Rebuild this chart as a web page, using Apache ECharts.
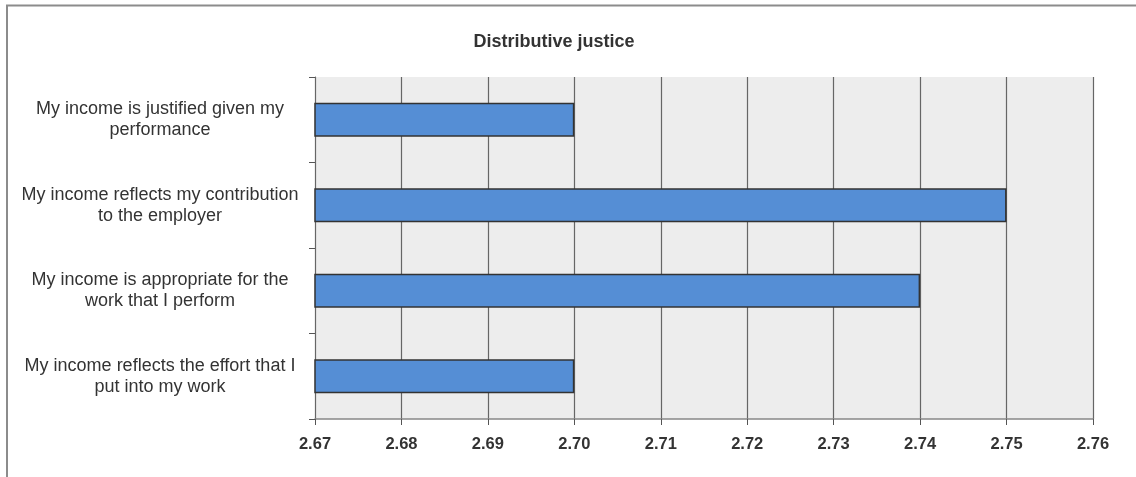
<!DOCTYPE html>
<html>
<head>
<meta charset="utf-8">
<script src="https://cdn.jsdelivr.net/npm/echarts@6/dist/echarts.min.js"></script>
<style>
  html, body { margin: 0; padding: 0; background: #ffffff; }
  #chart { width: 1136px; height: 477px; }
</style>
</head>
<body>
<div id="chart"></div>
<script>
// Survey items (top to bottom) and their mean scores
const categories = [
  'My income is justified given my\nperformance',
  'My income reflects my contribution\nto the employer',
  'My income is appropriate for the\nwork that I perform',
  'My income reflects the effort that I\nput into my work'
];
const meanScores = [2.70, 2.75, 2.74, 2.70];
const xTicks = { min: 2.67, max: 2.76, step: 0.01 };

const chart = echarts.init(document.getElementById('chart'), null, { renderer: 'canvas' });
const font = '"Liberation Sans", Arial, sans-serif';

chart.setOption({
  animation: false,
  backgroundColor: '#ffffff',
  title: {
    text: 'Distributive justice',
    left: 549,
    top: 28,
    textAlign: 'center',
    textStyle: { fontFamily: font, fontSize: 18, fontWeight: 'bold', color: '#333333' }
  },
  graphic: [
    {
      type: 'polyline',
      shape: { points: [[7, 477], [7, 5.5], [1136, 5.5]] },
      style: { stroke: '#8c8c8c', lineWidth: 2, fill: null },
      silent: true
    }
  ],
  grid: {
    left: 315, right: 43, top: 77, bottom: 58,
    show: true, backgroundColor: '#ededed', borderWidth: 0
  },
  xAxis: {
    type: 'value',
    min: xTicks.min,
    max: xTicks.max,
    interval: xTicks.step,
    axisLine: { show: true, lineStyle: { color: '#888888', width: 1.5 } },
    axisTick: { show: true, length: 6, lineStyle: { color: '#555555' } },
    splitLine: { show: true, lineStyle: { color: '#666666', width: 1.2 } },
    axisLabel: {
      margin: 17,
      fontFamily: font, fontSize: 16.5, fontWeight: 'bold', color: '#333333',
      formatter: v => v.toFixed(2)
    }
  },
  yAxis: {
    type: 'category',
    inverse: true,
    data: categories,
    axisLine: { show: true, lineStyle: { color: '#666666', width: 1 } },
    axisTick: { show: true, length: 6, lineStyle: { color: '#555555' } },
    splitLine: { show: false },
    axisLabel: {
      align: 'center',
      margin: 155,
      fontFamily: font, fontSize: 18, color: '#333333', lineHeight: 21
    }
  },
  series: [{
    type: 'bar',
    data: meanScores,
    barWidth: '40%',
    itemStyle: { color: '#558ed5', borderColor: '#333333', borderWidth: 1.5 }
  }]
});
</script>
</body>
</html>
